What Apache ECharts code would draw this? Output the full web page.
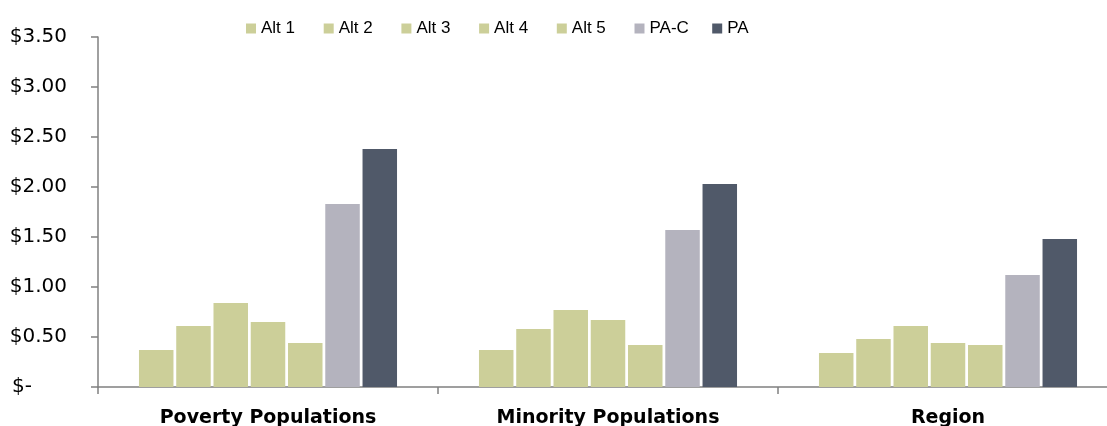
<!DOCTYPE html>
<html>
<head>
<meta charset="utf-8">
<script src="https://cdn.jsdelivr.net/npm/echarts@6/dist/echarts.min.js"></script>
<style>
html,body{margin:0;padding:0;background:#fff;}
#chart{width:1107px;height:426px;}
</style>
</head>
<body>
<div id="chart"></div>
<script>
var categories = ['Poverty Populations', 'Minority Populations', 'Region'];
var seriesNames = ['Alt 1', 'Alt 2', 'Alt 3', 'Alt 4', 'Alt 5', 'PA-C', 'PA'];
var alt1 = [0.37, 0.37, 0.34];
var alt2 = [0.61, 0.58, 0.48];
var alt3 = [0.84, 0.77, 0.61];
var alt4 = [0.65, 0.67, 0.44];
var alt5 = [0.44, 0.42, 0.42];
var paC  = [1.83, 1.57, 1.12];
var pa   = [2.38, 2.03, 1.48];
var seriesValues = [alt1, alt2, alt3, alt4, alt5, paC, pa];
var colors = ['#CCCF99', '#CCCF99', '#CCCF99', '#CCCF99', '#CCCF99', '#B4B3BE', '#505969'];

var chart = echarts.init(document.getElementById('chart'), null, {renderer: 'canvas'});
var series = seriesNames.map(function (name, i) {
  return {
    name: name,
    type: 'bar',
    data: seriesValues[i],
    barWidth: 34.5,
    barGap: '8%',
    itemStyle: {color: colors[i]},
    emphasis: {disabled: true}
  };
});
var legends = seriesNames.map(function (name, i) {
  return {
    left: 241 + i * 77.7,
    top: 15,
    itemWidth: 10,
    itemHeight: 10,
    itemGap: 4,
    icon: 'rect',
    selectedMode: false,
    textStyle: {fontFamily: 'Liberation Sans', fontSize: 17, color: '#000'},
    data: [name]
  };
});
chart.setOption({
  animation: false,
  color: colors,
  legend: legends,
  grid: {left: 98, width: 1020, top: 37, bottom: 39, containLabel: false, outerBoundsMode: 'none'},
  xAxis: {
    type: 'category',
    data: categories,
    axisLine: {lineStyle: {color: '#808080', width: 1.5}},
    axisTick: {show: true, length: 7, lineStyle: {color: '#808080', width: 1.5}},
    axisLabel: {fontFamily: 'DejaVu Sans', fontWeight: 'bold', fontSize: 19, color: '#000', margin: 22}
  },
  yAxis: {
    type: 'value',
    min: 0,
    max: 3.5,
    interval: 0.5,
    splitLine: {show: false},
    axisLine: {show: true, lineStyle: {color: '#808080', width: 1.5}},
    axisTick: {show: true, length: 7, lineStyle: {color: '#808080', width: 1.5}},
    axisLabel: {
      fontFamily: 'DejaVu Sans', fontSize: 20, color: '#000', margin: 31,
      formatter: function (v) { return v === 0 ? '{z|$-}' : '$' + v.toFixed(2); },
      rich: {z: {fontFamily: 'DejaVu Sans', fontSize: 20, color: '#000', padding: [0, 35, 0, 0]}}
    }
  },
  series: series
});
</script>
</body>
</html>
